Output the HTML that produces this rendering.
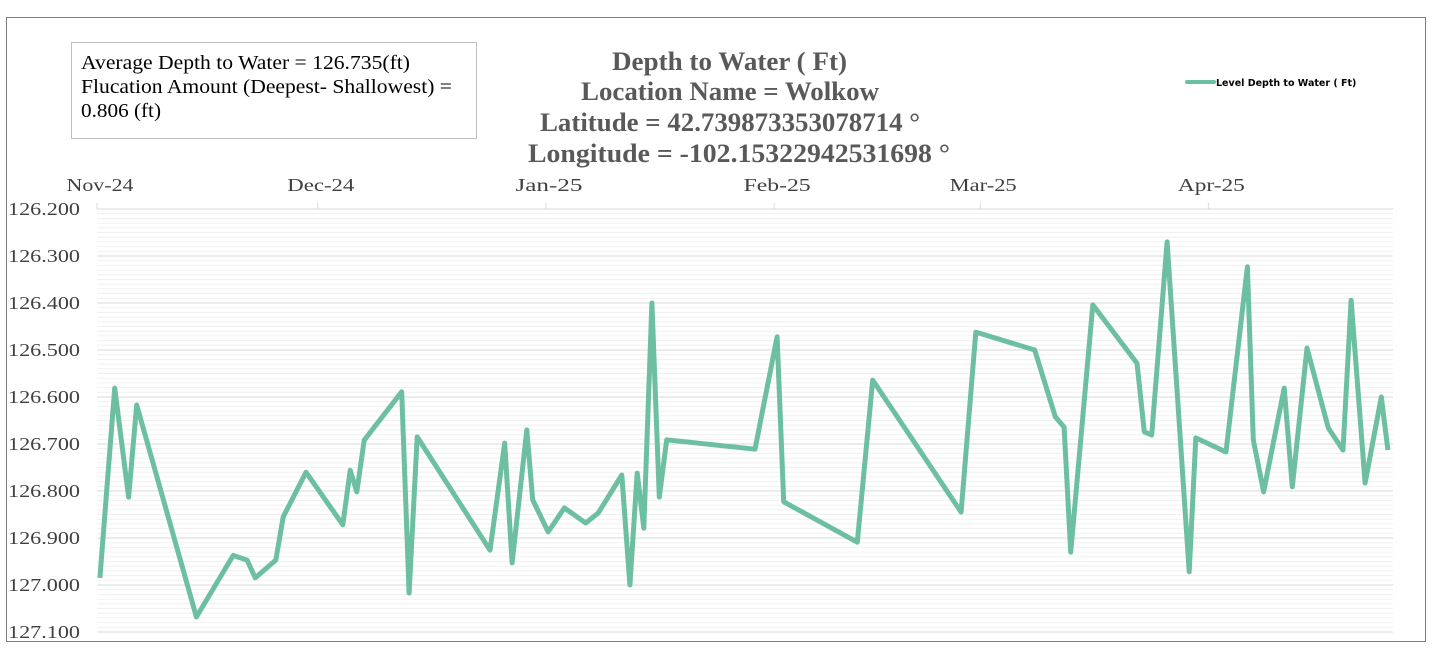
<!DOCTYPE html>
<html><head><meta charset="utf-8"><style>
html,body{margin:0;padding:0;background:#fff;}
svg{display:block;}
</style></head><body>
<svg id="chart" width="1437" height="655" xmlns="http://www.w3.org/2000/svg">
<rect x="6.5" y="17.5" width="1419" height="624" fill="#fff" stroke="#7f7f7f" stroke-width="1"/>
<g id="grid"></g>
<g id="xaxis"></g>
<g id="yaxis"></g>
<g id="series"></g>
<g>
<rect x="71.5" y="42.5" width="405" height="96" fill="#fff" stroke="#bfbfbf"/>
<text x="81" y="69" font-family="Liberation Serif, serif" font-size="19.5" fill="#000" textLength="329" lengthAdjust="spacingAndGlyphs">Average Depth to Water = 126.735(ft)</text>
<text x="81" y="93" font-family="Liberation Serif, serif" font-size="19.5" fill="#000" textLength="371" lengthAdjust="spacingAndGlyphs">Flucation Amount (Deepest- Shallowest) =</text>
<text x="81" y="117" font-family="Liberation Serif, serif" font-size="19.5" fill="#000" textLength="80" lengthAdjust="spacingAndGlyphs">0.806 (ft)</text>
</g>
<g font-family="Liberation Serif, serif" font-size="26" font-weight="bold" fill="#595959">
<text x="612" y="70" textLength="235" lengthAdjust="spacingAndGlyphs">Depth to Water ( Ft)</text>
<text x="581" y="100" textLength="298" lengthAdjust="spacingAndGlyphs">Location Name = Wolkow</text>
<text x="540" y="131" textLength="380" lengthAdjust="spacingAndGlyphs">Latitude = 42.739873353078714 °</text>
<text x="528" y="162" textLength="422" lengthAdjust="spacingAndGlyphs">Longitude = -102.15322942531698 °</text>
</g>
<g>
<line x1="1187" y1="82" x2="1214" y2="82" stroke="#6dbfa2" stroke-width="4" stroke-linecap="round"/>
<text x="1216" y="86" font-family="DejaVu Sans, sans-serif" font-size="9.5" font-weight="bold" fill="#000">Level Depth to Water ( Ft)</text>
</g>
</svg>
<script>
// days since 2024-11-01
const days = [0.4,2.4,4.3,5.4,13.5,18.5,20.4,21.5,24.3,25.3,28.4,33.4,34.4,35.3,36.3,41.4,42.4,43.5,53.4,55.4,56.4,58.4,59.2,61.3,63.5,66.4,68.1,71.3,72.4,73.4,74.3,75.4,76.4,77.4,89.4,92.4,93.3,103.3,105.4,117.4,119.4,127.4,130.2,131.4,132.3,135.3,141.3,142.3,143.3,145.4,148.4,149.3,153.4,156.3,157.1,158.5,161.3,162.4,164.4,167.3,169.3,170.4,172.3,174.5,175.4];
const depths = [126.985,126.581,126.813,126.617,127.068,126.937,126.947,126.985,126.947,126.855,126.760,126.872,126.756,126.802,126.692,126.589,127.017,126.685,126.926,126.698,126.953,126.670,126.819,126.887,126.836,126.868,126.847,126.766,127.000,126.762,126.879,126.400,126.813,126.691,126.711,126.472,126.823,126.909,126.564,126.845,126.462,126.500,126.642,126.664,126.930,126.404,126.528,126.674,126.681,126.270,126.972,126.687,126.717,126.323,126.691,126.802,126.581,126.791,126.496,126.666,126.713,126.394,126.783,126.600,126.713];
const yTicks = [126.2,126.3,126.4,126.5,126.6,126.7,126.8,126.9,127.0,127.1];
const monthLabels = ["Nov-24","Dec-24","Jan-25","Feb-25","Mar-25","Apr-25"];
const monthDays = [0,30,61,92,120,151];

const NS="http://www.w3.org/2000/svg";
const X0=97, X1=1393, PXD=7.36;
const xs=d=>X0+d*PXD;
const ys=v=>209+(v-126.2)*470;
function mk(tag,attrs,parent){const e=document.createElementNS(NS,tag);for(const k in attrs)e.setAttribute(k,attrs[k]);parent.appendChild(e);return e;}
const grid=document.getElementById('grid');
for(let i=1;i<90;i++){
  if(i%10===0)continue;
  const v=126.2+i*0.01;
  const l=mk('line',{x1:X0,x2:X1,y1:ys(v),y2:ys(v),stroke:'#f0f0f0','stroke-width':1},grid);
  
  
}
const ya=document.getElementById('yaxis');
yTicks.forEach(v=>{
  const l=mk('line',{x1:X0,x2:X1,y1:ys(v),y2:ys(v),stroke:'#d9d9d9','stroke-width':1},grid);
  
  
  const t=mk('text',{x:8,y:ys(v)+6,'font-family':'Liberation Serif, serif','font-size':18,fill:'#404040',textLength:72,lengthAdjust:'spacingAndGlyphs'},ya);
  t.textContent=v.toFixed(3);
  
  
});
const xa=document.getElementById('xaxis');
monthLabels.forEach((m,i)=>{
  const x=xs(monthDays[i]);
  const tk=mk('line',{x1:x,x2:x,y1:203,y2:209,stroke:'#d9d9d9'},xa);
  
  
  const t=mk('text',{x:x+3-33.5,y:191,'font-family':'Liberation Serif, serif','font-size':18,fill:'#404040',textLength:67,lengthAdjust:'spacingAndGlyphs'},xa);
  t.textContent=m;
  
  
});
const pts=days.map((d,i)=>xs(d).toFixed(1)+','+ys(depths[i]).toFixed(1)).join(' ');
const pl=mk('polyline',{points:pts,fill:'none',stroke:'#6dbfa2','stroke-width':5,'stroke-linejoin':'round'},document.getElementById('series'));


</script>
</body></html>
